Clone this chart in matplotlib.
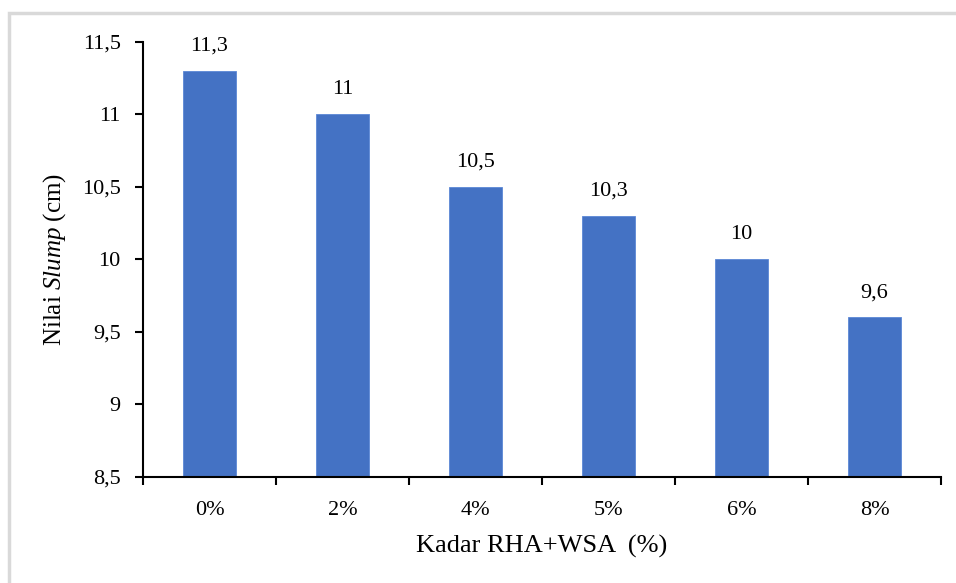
import matplotlib
matplotlib.use("Agg")
import matplotlib.pyplot as plt
from matplotlib.patches import Rectangle
import numpy as np

categories = ["0%", "2%", "4%", "5%", "6%", "8%"]
values = [11.3, 11.0, 10.5, 10.3, 10.0, 9.6]
value_labels = ["11,3", "11", "10,5", "10,3", "10", "9,6"]
yticks = [8.5, 9.0, 9.5, 10.0, 10.5, 11.0, 11.5]
ytick_labels = ["8,5", "9", "9,5", "10", "10,5", "11", "11,5"]

plt.rcParams['font.family'] = ['Liberation Serif', 'DejaVu Serif']
plt.rcParams['mathtext.fontset'] = 'custom'
plt.rcParams['mathtext.rm'] = 'Liberation Serif'
plt.rcParams['mathtext.it'] = 'Liberation Serif:italic'

fig = plt.figure(figsize=(9.56, 5.83), dpi=100)
# light gray frame (top and left visible)
fig.patches.append(Rectangle((9/956, -0.1), 1.2, 1 - 13/583 + 0.1, transform=fig.transFigure,
                             fill=False, edgecolor='#d9d9d9', linewidth=2.5))

ax = fig.add_axes([143/956, 1 - 477/583, (941 - 143)/956, (477 - 42)/583])
x = np.arange(len(categories))
ax.bar(x, values, width=0.4, color='#4472C4', edgecolor='#5b87d6', linewidth=0.6)
ax.set_ylim(8.5, 11.5)
ax.set_xlim(-0.5, len(categories) - 0.5)

ax.set_yticks(yticks)
ax.set_yticklabels(ytick_labels, fontsize=16)
ax.set_xticks(x)
ax.set_xticklabels(categories, fontsize=16)
ax.tick_params(axis='x', length=0, pad=17)
ax.set_xticks(np.arange(-0.5, len(categories), 1.0), minor=True)
ax.tick_params(axis='x', which='minor', length=6, width=1.5, direction='out', color='black')
ax.tick_params(axis='y', length=6, width=1.5, direction='out', pad=10)

for s in ['top', 'right']:
    ax.spines[s].set_visible(False)
for s in ['left', 'bottom']:
    ax.spines[s].set_linewidth(1.5)
    ax.spines[s].set_color('black')

for xi, v, lab in zip(x, values, value_labels):
    ax.annotate(lab, (xi, v), xytext=(0, 11), textcoords='offset points',
                ha='center', va='bottom', fontsize=16)

ax.set_xlabel("Kadar RHA+WSA  (%)", fontsize=19, labelpad=11)
ax.set_ylabel(r"Nilai $\mathit{Slump}$ (cm)", fontsize=18, labelpad=10)

fig.savefig("out.png", dpi=100)
